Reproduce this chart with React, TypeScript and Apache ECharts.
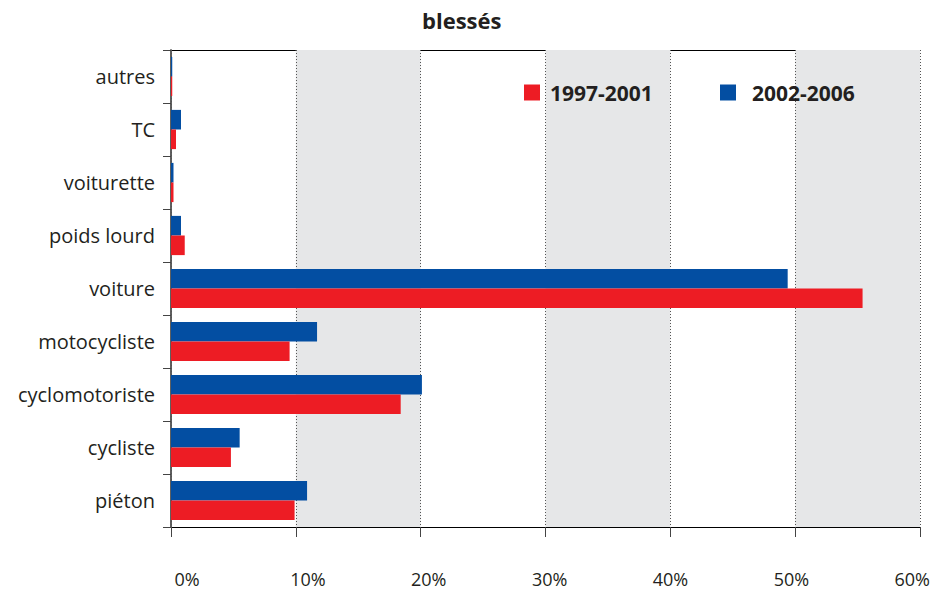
import React, { useEffect, useRef } from "react";
import * as echarts from "echarts";

const categories = ["piéton", "cycliste", "cyclomotoriste", "motocycliste", "voiture", "poids lourd", "voiturette", "TC", "autres"];
const series1997 = [9.9, 4.8, 18.4, 9.5, 55.4, 1.1, 0.2, 0.4, 0.1];
const series2002 = [10.9, 5.5, 20.1, 11.7, 49.4, 0.8, 0.2, 0.8, 0.1];
const seriesNames = ["1997-2001", "2002-2006"];
const titleText = "blessés";
const xMin = 0;
const xMax = 60;
const xInterval = 10;

const FONT = "'Open Sans', 'Noto Sans', sans-serif";
const TEXT = "#231f20";
const RED = "#ed1c24";
const BLUE = "#034ea2";

export default function App() {
  const ref = useRef<HTMLDivElement>(null);
  useEffect(() => {
    if (!ref.current) return;
    const chart = echarts.init(ref.current, undefined, { renderer: "svg" });
    const option: any = {
      animation: false,
      backgroundColor: "#ffffff",
      title: {
        text: titleText,
        left: 422,
        top: 9,
        padding: 0,
        textStyle: { fontFamily: FONT, fontWeight: "bold", fontSize: 22, color: TEXT },
      },
      legend: [
        {
          data: [seriesNames[0]],
          left: 524,
          top: 82,
          padding: 0,
          icon: "rect",
          itemWidth: 16,
          itemHeight: 16,
          textStyle: { fontFamily: FONT, fontWeight: "bold", fontSize: 21, color: TEXT, padding: [0, 0, 0, 5] },
        },
        {
          data: [seriesNames[1]],
          left: 720,
          top: 82,
          padding: 0,
          icon: "rect",
          itemWidth: 16,
          itemHeight: 16,
          textStyle: { fontFamily: FONT, fontWeight: "bold", fontSize: 21, color: TEXT, padding: [0, 0, 0, 11] },
        },
      ],
      grid: [
        { left: 171, right: 13, top: 50, bottom: 64, containLabel: false },
        { left: 187, right: 18.5, top: 50, bottom: 64, containLabel: false },
      ],
      xAxis: [
        {
          type: "value",
          gridIndex: 0,
          min: xMin,
          max: xMax,
          interval: xInterval,
          z: 1,
          axisLine: { show: true, lineStyle: { color: "#000000", width: 1 } },
          axisTick: { show: true, length: 10, lineStyle: { color: "#444444" } },
          axisLabel: { show: false },
          splitLine: { show: true, lineStyle: { color: "#555555", type: [1, 2], width: 1 } },
          splitArea: { show: true, areaStyle: { color: ["rgba(0,0,0,0)", "#e6e7e8"] } },
        },
        {
          type: "value",
          gridIndex: 0,
          position: "top",
          min: xMin,
          max: xMax,
          interval: xInterval,
          z: 0,
          axisLine: { show: true, lineStyle: { color: "#000000", width: 1 } },
          axisTick: { show: false },
          axisLabel: { show: false },
          splitLine: { show: false },
        },
        {
          type: "value",
          gridIndex: 1,
          min: xMin,
          max: xMax,
          interval: xInterval,
          axisLine: { show: false },
          axisTick: { show: false },
          splitLine: { show: false },
          axisLabel: {
            show: true,
            margin: 44,
            formatter: (v: number) => v + "%",
            fontFamily: FONT,
            fontSize: 18,
            lineHeight: 16,
            color: TEXT,
          },
        },
      ],
      yAxis: [
        {
          type: "category",
          gridIndex: 0,
          data: categories,
          z: 2,
          axisLine: { show: true, lineStyle: { color: "#555555", width: 1.5 } },
          axisTick: { show: true, length: 8, lineStyle: { color: "#444444" } },
          axisLabel: { fontFamily: FONT, fontSize: 20, color: TEXT, margin: 16 },
        },
        {
          type: "category",
          gridIndex: 0,
          position: "right",
          data: categories,
          z: 2,
          axisLine: { show: true, lineStyle: { color: "#555555", width: 1.5 } },
          axisTick: { show: false },
          axisLabel: { show: false },
        },
        {
          type: "category",
          gridIndex: 1,
          data: categories,
          show: false,
        },
      ],
      series: [
        {
          name: seriesNames[1],
          type: "bar",
          xAxisIndex: 0,
          yAxisIndex: 0,
          data: series2002,
          itemStyle: { color: BLUE },
          barGap: "0%",
          barCategoryGap: "26%",
          z: 3,
        },
        {
          name: seriesNames[0],
          type: "bar",
          xAxisIndex: 0,
          yAxisIndex: 0,
          data: series1997,
          itemStyle: { color: RED },
          barGap: "0%",
          barCategoryGap: "26%",
          z: 3,
        },
      ],
    };
    chart.setOption(option);
    return () => chart.dispose();
  }, []);
  return <div ref={ref} style={{ width: 933, height: 591, position: "absolute", left: 0, top: 0 }} />;
}
